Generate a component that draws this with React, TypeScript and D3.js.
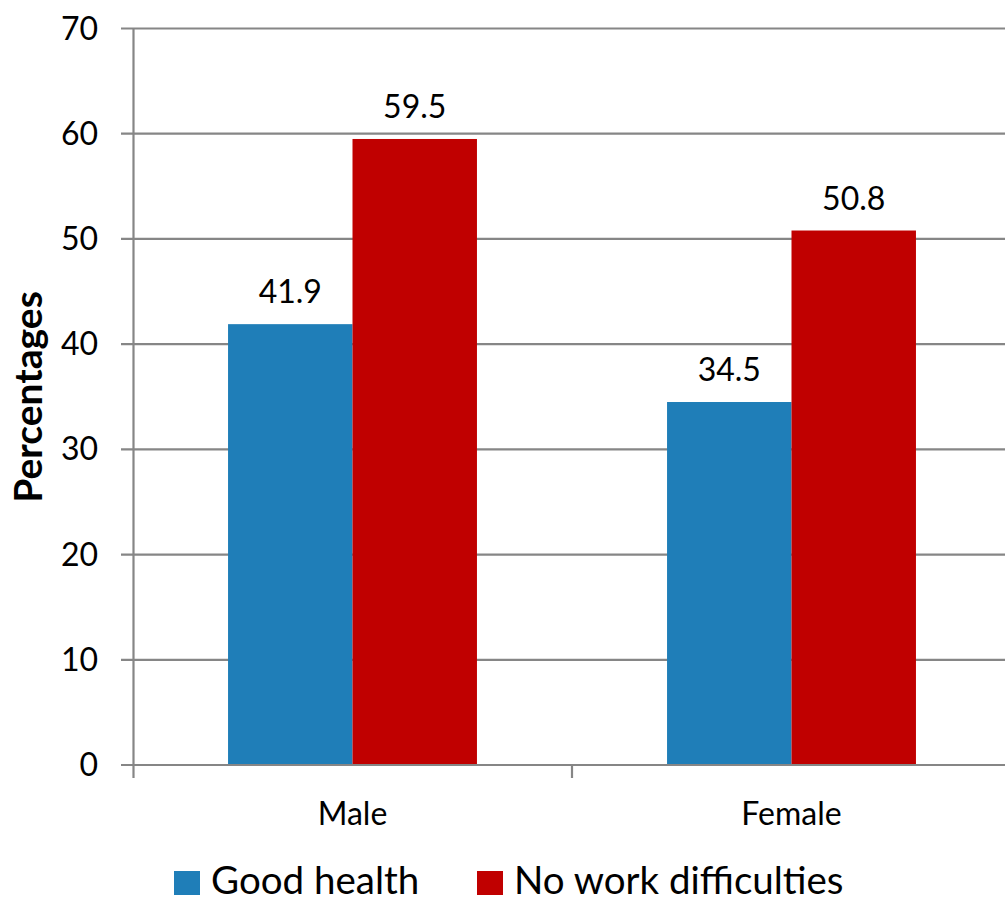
import { useEffect } from "react";
import * as d3 from "d3";

const categories = ["Male", "Female"];
const seriesNames = ["Good health", "No work difficulties"];
const goodHealth = [41.9, 34.5];
const noWorkDifficulties = [59.5, 50.8];
const yTicks = [0, 10, 20, 30, 40, 50, 60, 70];

const colors = ["#1F7EB8", "#C00000"];
const W = 1005;
const H = 903;
const FONT = "Lato, 'Open Sans', sans-serif";

const App = () => {
  useEffect(() => {
    document.body.style.margin = "0";
  }, []);

  const series = [goodHealth, noWorkDifficulties];

  const x = d3.scaleBand<string>().domain(categories).range([133, 1011]).padding(0);
  const y = d3.scaleLinear().domain([0, 70]).range([765, 28.5]);
  // bars fill about 57% of each category slot
  const groupWidth = x.bandwidth() * 0.567;
  const xs = d3
    .scaleBand<string>()
    .domain(seriesNames)
    .range([-groupWidth / 2, groupWidth / 2])
    .padding(0);

  const axisColor = "#868686";

  return (
    <svg width={W} height={H} style={{ display: "block", background: "#fff" }}>
      {/* gridlines */}
      {yTicks.map((t) => (
        <line
          key={"g" + t}
          x1={121}
          x2={W}
          y1={y(t)}
          y2={y(t)}
          stroke={axisColor}
          strokeWidth={2.2}
        />
      ))}
      {/* y axis */}
      <line x1={133.5} x2={133.5} y1={y(70)} y2={778} stroke={axisColor} strokeWidth={2.2} />
      {categories.slice(1).map((c) => (
        <line
          key={"t" + c}
          x1={x(c)!}
          x2={x(c)!}
          y1={y(0)}
          y2={778}
          stroke={axisColor}
          strokeWidth={2.2}
        />
      ))}
      {yTicks.map((t) => (
        <text
          key={"l" + t}
          x={98}
          y={y(t) + 11}
          textAnchor="end"
          fontFamily={FONT}
          fontSize={32}
          fill="#000"
        >
          {t}
        </text>
      ))}

      {/* bars */}
      {categories.map((c, ci) =>
        series.map((vals, si) => {
          const cx = x(c)! + x.bandwidth() / 2;
          const bx = cx + xs(seriesNames[si])!;
          const v = vals[ci];
          return (
            <g key={c + si}>
              <rect
                x={bx}
                y={y(v)}
                width={xs.bandwidth()}
                height={y(0) - y(v) - 1}
                fill={colors[si]}
              />
              <text
                x={bx + xs.bandwidth() / 2}
                y={y(v) - 21}
                textAnchor="middle"
                fontFamily={FONT}
                fontSize={32}
                fill="#000"
              >
                {v.toFixed(1)}
              </text>
            </g>
          );
        })
      )}

      {/* category labels */}
      {categories.map((c) => (
        <text
          key={"c" + c}
          x={x(c)! + x.bandwidth() / 2}
          y={825}
          textAnchor="middle"
          fontFamily={FONT}
          fontSize={32}
          fill="#000"
        >
          {c}
        </text>
      ))}

      {/* y title */}
      <text
        transform="translate(42,397) rotate(-90)"
        textAnchor="middle"
        fontFamily={FONT}
        fontSize={39}
        fontWeight="bold"
        fill="#000"
      >
        Percentages
      </text>

      {/* legend */}
      {seriesNames.map((s, i) => {
        const lx = [174, 477][i];
        return (
          <g key={"lg" + s}>
            <rect x={lx} y={871} width={26} height={24} fill={colors[i]} />
            <text x={lx + 37} y={894} fontFamily={FONT} fontSize={38.5} fill="#000">
              {s}
            </text>
          </g>
        );
      })}
    </svg>
  );
};

export default App;
